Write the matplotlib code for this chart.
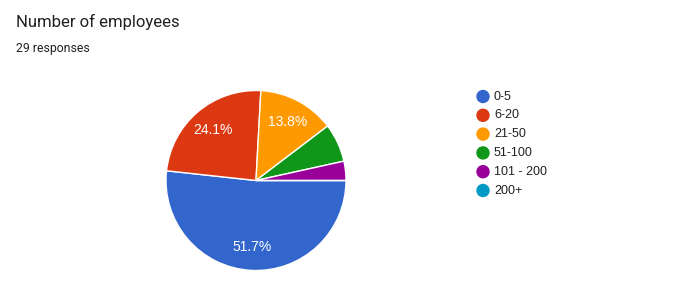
import matplotlib.pyplot as plt
from matplotlib.patches import Circle

plt.rcParams['font.family'] = ['Roboto', 'DejaVu Sans']

# Survey answers: number of employees (29 responses)
labels = ["0-5", "6-20", "21-50", "51-100", "101 - 200", "200+"]
counts = [15, 7, 4, 2, 1, 0]
colors = ["#3366cc", "#dc3912", "#ff9900", "#109618", "#990099", "#0099c6"]

W, H = 696, 306
fig = plt.figure(figsize=(W / 100, H / 100), dpi=100)
fig.patch.set_facecolor("white")

# title + subtitle
fig.text(16 / W, 1 - 27 / H, "Number of employees", fontsize=12, color="#202124",
         ha="left", va="baseline")
fig.text(16 / W, 1 - 52 / H, "29 responses", fontsize=8.8, color="#202124",
         ha="left", va="baseline")

# pie, starts at 3 o'clock and runs clockwise like google forms
cx, cy, r = 256, 180.5, 90
ax = fig.add_axes([(cx - r) / W, (H - cy - r) / H, 2 * r / W, 2 * r / H])


def pct_label(p):
    return "%.1f%%" % p if p >= 10 else ""


wedges, texts, autotexts = ax.pie(counts, colors=colors, startangle=0, counterclock=False,
                                  autopct=pct_label, pctdistance=0.74,
                                  wedgeprops=dict(edgecolor="white", linewidth=1))
for t in autotexts:
    t.set_color("white")
    t.set_fontsize(10)
    t.set_family(["Liberation Sans", "DejaVu Sans"])
ax.set_xlim(-1, 1)
ax.set_ylim(-1, 1)
ax.set_aspect("equal")

# legend drawn by hand in pixel coords
lax = fig.add_axes([0, 0, 1, 1])
lax.set_xlim(0, W)
lax.set_ylim(H, 0)
lax.axis("off")
y0, step = 96.5, 18.8
for i, (lab, col) in enumerate(zip(labels, colors)):
    y = y0 + i * step
    lax.add_patch(Circle((483, y), 6, color=col))
    lax.text(494, y, lab, fontsize=9, color="#202124", ha="left", va="center",
             family=["Liberation Sans", "DejaVu Sans"])

plt.savefig("out.png", dpi=100)
